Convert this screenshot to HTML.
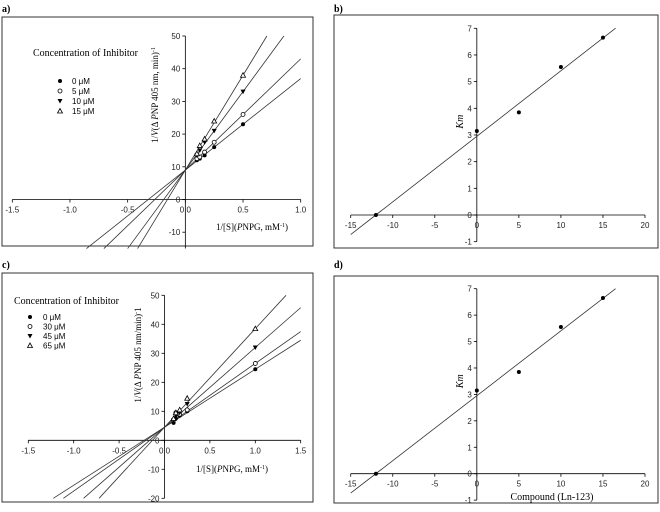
<!DOCTYPE html>
<html><head><meta charset="utf-8">
<style>
html,body{margin:0;padding:0;background:#fff;}
svg{display:block;}
.ser{font-family:"Liberation Serif",serif;}
.san{font-family:"Liberation Sans",sans-serif;}
</style></head>
<body>
<svg id="fig" width="660" height="512" viewBox="0 0 660 512"></svg>
<script>
// ---- Data ----
const aX = [0.1, 0.125, 0.167, 0.25, 0.5];
const aConc = ["0 μM", "5 μM", "10 μM", "15 μM"];
const aY0 = [12, 12.5, 13.5, 16, 23];
const aY5 = [12.5, 13, 14.5, 17.5, 26];
const aY10 = [13.5, 15, 17.5, 21, 33];
const aY15 = [14, 16.5, 18.5, 24, 38];
const aIntercept = 9;
const aSlopes = [28, 34, 48, 58];
const aXTicks = [-1.5, -1.0, -0.5, 0.0, 0.5, 1.0];
const aYTicks = [-10, 0, 10, 20, 30, 40, 50];

const cX = [0.1, 0.125, 0.167, 0.25, 1.0];
const cConc = ["0 μM", "30 μM", "45 μM", "65 μM"];
const cY0 = [6, 7.5, 8.5, 10, 24.5];
const cY30 = [7, 9.5, 9, 10.5, 26.5];
const cY45 = [7, 8.5, 9.5, 12.5, 32];
const cY65 = [7.5, 9.5, 10.5, 14.5, 38.5];
const cIntercept = 4.5;
const cSlopes = [20, 22, 27.5, 34];
const cXTicks = [-1.5, -1.0, -0.5, 0.0, 0.5, 1.0, 1.5];
const cYTicks = [-20, -10, 0, 10, 20, 30, 40, 50];

const kmX = [-12, 0, 5, 10, 15];
const kmY = [0, 3.15, 3.85, 5.55, 6.65];
const kmSlope = 0.2456;
const kmIntercept = 2.95;
const kmXTicks = [-15, -10, -5, 0, 5, 10, 15, 20];
const kmYTicks = [-1, 0, 1, 2, 3, 4, 5, 6, 7];

const NS = "http://www.w3.org/2000/svg";
const svg = document.getElementById("fig");
function mk(tag, attrs, parent, text) {
  const e = document.createElementNS(NS, tag);
  for (const k in attrs) e.setAttribute(k, attrs[k]);
  if (text !== undefined) e.textContent = text;
  (parent || svg).appendChild(e);
  return e;
}
function scale(d0, d1, r0, r1) { return v => r0 + (v - d0) * (r1 - r0) / (d1 - d0); }

function marker(g, type, x, y, r) {
  let e;
  if (type === 0) e = mk("circle", {cx: x, cy: y, r: r, fill: "#000"}, g);
  else if (type === 1) e = mk("circle", {cx: x, cy: y, r: r, fill: "#fff", stroke: "#000", "stroke-width": 0.8}, g);
  else if (type === 2) e = mk("polygon", {points: `${x-r-0.5},${y-r} ${x+r+0.5},${y-r} ${x},${y+r+0.5}`, fill: "#000"}, g);
  else e = mk("polygon", {points: `${x-r-0.5},${y+r} ${x+r+0.5},${y+r} ${x},${y-r-0.5}`, fill: "#fff", stroke: "#000", "stroke-width": 0.8}, g);
  return e;
}

function frame(name, x, y, w, h, label, lx, ly) {
  const f = mk("rect", {x: x, y: y, width: w, height: h, fill: "none", stroke: "#333", "stroke-width": 1});
  
  
  const t = mk("text", {x: lx, y: ly, "font-size": 10, "font-weight": "bold", class: "ser"}, svg, label);
  
  
}

function axes(name, sx, sy, xt, yt, xmin, xmax, ymin, ymax, xfmt, xlabY, ylabX) {
  const g = mk("g", {stroke: "#000", "stroke-width": 0.8});
  
  
  mk("line", {x1: sx(xmin), y1: sy(0), x2: sx(xmax), y2: sy(0)}, g);
  mk("line", {x1: sx(0), y1: sy(ymin), x2: sx(0), y2: sy(ymax)}, g);
  const tg = mk("g", {"font-size": 8, fill: "#222", class: "san"});
  
  
  xt.forEach(v => {
    mk("line", {x1: sx(v), y1: sy(0), x2: sx(v), y2: sy(0) + 3}, g);
    mk("text", {x: sx(v), y: sy(0) + xlabY, "text-anchor": "middle"}, tg, xfmt(v));
  });
  yt.forEach(v => {
    mk("line", {x1: sx(0), y1: sy(v), x2: sx(0) - 3, y2: sy(v)}, g);
    mk("text", {x: sx(0) - ylabX, y: sy(v) + 3, "text-anchor": "end"}, tg, String(v));
  });
}

// ---------- Panel a ----------
frame("panel-a", 2, 17, 311, 229, "a)", 2, 12);
{
  const sx = scale(-1.5, 1.0, 12.3, 300.7), sy = scale(0, 50, 199.5, 36);
  axes("panel-a", sx, sy, aXTicks, aYTicks, -1.5, 1.0, -15, 50, v => v.toFixed(1), 13, 5);
  const lg = mk("g", {stroke: "#333", "stroke-width": 0.8});
  
  
  aSlopes.forEach(s => {
    const x0 = (-15 - aIntercept) / s;
    const x1 = Math.min(1.0, (50 - aIntercept) / s);
    mk("line", {x1: sx(x0), y1: sy(-15), x2: sx(x1), y2: sy(aIntercept + s * x1)}, lg);
  });
  const series = [aY0, aY5, aY10, aY15];
  series.forEach((ys, si) => {
    const g = mk("g", {});
    
    
    ys.forEach((y, i) => marker(g, si, sx(aX[i]), sy(y), 2));
  });
  const t = mk("text", {x: 33, y: 56, "font-size": 10, class: "ser"}, svg, "Concentration of Inhibitor");
  
  
  aConc.forEach((c, i) => {
    const g = mk("g", {});
    
    
    marker(g, i, 60, 81 + i * 10, 2);
    mk("text", {x: 72, y: 84 + i * 10, "font-size": 8, class: "san"}, g, c);
  });
  const yl = mk("text", {x: 0, y: 0, "font-size": 9, class: "ser", transform: "translate(158,95) rotate(-90)", "text-anchor": "middle"}, svg);
  yl.innerHTML = '1/<tspan font-style="italic">V</tspan>(Δ <tspan font-style="italic">P</tspan>NP 405 nm, min)<tspan dy="-3" font-size="6">-1</tspan>';
  
  
  const xl = mk("text", {x: 252, y: 230, "font-size": 9, class: "ser", "text-anchor": "middle"}, svg);
  xl.innerHTML = '1/[S](<tspan font-style="italic">P</tspan>NPG, mM<tspan dy="-3" font-size="6">-1</tspan><tspan dy="3">)</tspan>';
  
  
}

// ---------- Panel c ----------
frame("panel-c", 2, 273, 311, 229, "c)", 2, 268);
{
  const sx = scale(-1.5, 1.5, 28.3, 300.7), sy = scale(0, 50, 440.3, 295.3);
  axes("panel-c", sx, sy, cXTicks, cYTicks, -1.5, 1.5, -20, 50, v => v.toFixed(1), 13, 5);
  const lg = mk("g", {stroke: "#333", "stroke-width": 0.8});
  
  
  cSlopes.forEach(s => {
    const x0 = (-20 - cIntercept) / s;
    const x1 = Math.min(1.5, (50 - cIntercept) / s);
    mk("line", {x1: sx(x0), y1: sy(-20), x2: sx(x1), y2: sy(cIntercept + s * x1)}, lg);
  });
  const series = [cY0, cY30, cY45, cY65];
  series.forEach((ys, si) => {
    const g = mk("g", {});
    
    
    ys.forEach((y, i) => marker(g, si, sx(cX[i]), sy(y), 2));
  });
  const t = mk("text", {x: 14, y: 304, "font-size": 10, class: "ser"}, svg, "Concentration of Inhibitor");
  
  
  cConc.forEach((c, i) => {
    const g = mk("g", {});
    
    
    marker(g, i, 30, 317 + i * 9.5, 2);
    mk("text", {x: 43, y: 320 + i * 9.5, "font-size": 8, class: "san"}, g, c);
  });
  const yl = mk("text", {x: 0, y: 0, "font-size": 9, class: "ser", transform: "translate(141,355) rotate(-90)", "text-anchor": "middle"}, svg);
  yl.innerHTML = '1/<tspan font-style="italic">V</tspan>(Δ <tspan font-style="italic">P</tspan>NP 405 nm/min)<tspan dy="-3" font-size="6">-</tspan><tspan dy="3">1</tspan>';
  
  
  const xl = mk("text", {x: 232, y: 472, "font-size": 9, class: "ser", "text-anchor": "middle"}, svg);
  xl.innerHTML = '1/[S](<tspan font-style="italic">P</tspan>NPG, mM<tspan dy="-3" font-size="6">-1</tspan><tspan dy="3">)</tspan>';
  
  
}

// ---------- Km panels b & d ----------
function kmPanel(name, label, fx, fy, fw, fh, lx, ly, y7, y0, xTitle) {
  frame(name, fx, fy, fw, fh, label, lx, ly);
  const sx = scale(-15, 20, 350.7, 645), sy = scale(0, 7, y0, y7);
  axes(name, sx, sy, kmXTicks, kmYTicks, -15, 20, -1, 7, v => String(v), 13, 5);
  const l = mk("line", {x1: sx(-15), y1: sy(kmIntercept + kmSlope * -15), x2: sx(16.5), y2: sy(kmIntercept + kmSlope * 16.5), stroke: "#333", "stroke-width": 0.8});
  
  
  const g = mk("g", {});
  
  
  kmX.forEach((x, i) => marker(g, 0, sx(x), sy(kmY[i]), 2));
  const yl = mk("text", {x: 0, y: 0, "font-size": 10, class: "ser", "font-style": "italic", transform: `translate(${sx(0) - 14},${sy(3.5)}) rotate(-90)`, "text-anchor": "middle"}, svg, "Km");
  
  
  if (xTitle) {
    const xl = mk("text", {x: 552, y: 500, "font-size": 10, class: "ser", "text-anchor": "middle"}, svg, xTitle);
    
    
  }
}
kmPanel("panel-b", "b)", 334, 15, 324, 233, 334, 12, 28.3, 215, null);
kmPanel("panel-d", "d)", 334, 276, 324, 227, 334, 268, 288.7, 473.7, "Compound (Ln-123)");
</script>
</body></html>
